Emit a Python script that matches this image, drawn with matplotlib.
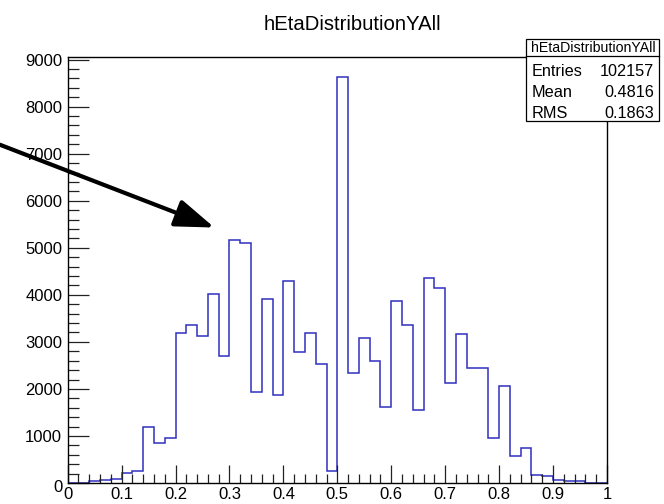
import numpy as np
import matplotlib.pyplot as plt
import matplotlib.transforms as mtransforms
from matplotlib.patches import Rectangle
from matplotlib.lines import Line2D
from matplotlib.ticker import MultipleLocator

plt.rcParams['font.family'] = ['Liberation Sans', 'DejaVu Sans']

# 50 bins in eta-y between 0 and 1
edges = np.linspace(0.0, 1.0, 51)
counts = [0, 0, 40, 60, 80, 206, 248, 1183, 857, 956,
          3181, 3351, 3117, 4009, 2692, 5157, 5100, 1934, 3917, 1863,
          4285, 2777, 3187, 2529, 255, 8630, 2337, 3075, 2600, 1622,
          3860, 3365, 1544, 4349, 4137, 2118, 3173, 2451, 2451, 949,
          2068, 574, 737, 177, 156, 64, 35, 35, 0, 0]

hist_name = "hEtaDistributionYAll"
stat_labels = ["Entries", "Mean", "RMS"]
stat_values = ["102157", "0.4816", "0.1863"]

W, H = 664, 504
fig = plt.figure(figsize=(W / 100, H / 100), dpi=100)


def fx(px):
    return px / W


def fy(py):
    return 1 - py / H


ax = fig.add_axes([fx(67.7), fy(483), fx(607) - fx(67.7), fy(56.7) - fy(483)])
ax.stairs(counts, edges, color='#2f2fbf', linewidth=1.1)
ax.set_xlim(0, 1)
ax.set_ylim(0, 1.05 * max(counts))

ax.xaxis.set_minor_locator(MultipleLocator(0.02))
ax.yaxis.set_minor_locator(MultipleLocator(200))
ax.set_xticks(np.arange(0, 1.01, 0.1))
ax.set_xticklabels(['0', '0.1', '0.2', '0.3', '0.4', '0.5', '0.6', '0.7', '0.8', '0.9', '1'])
ax.set_yticks(np.arange(0, 9001, 1000))
ax.set_yticklabels([str(v) for v in range(0, 9001, 1000)])
ax.tick_params(axis='both', which='both', direction='in', top=False, right=False,
               labelsize=12, width=0.9, color='#222222')
ax.tick_params(axis='x', which='major', length=13, pad=3)
ax.tick_params(axis='x', which='minor', length=6.5)
ax.tick_params(axis='y', which='major', length=15, pad=4)
ax.tick_params(axis='y', which='minor', length=8)
for sp in ax.spines.values():
    sp.set_linewidth(1.0)

# lower the y "0" label a bit so it does not sit on the x "0"
lbl0 = ax.get_yticklabels()[0]
lbl0.set_transform(lbl0.get_transform() + mtransforms.ScaledTranslation(0, -2 / 72, fig.dpi_scale_trans))

fig.text(fx(352), fy(24), hist_name, ha='center', va='center', fontsize=14.6)

# arrow pointing at the 0.3 peak
ax.annotate('', xy=(0.272, 5430), xytext=(-0.1256, 7190), xycoords='data',
            textcoords='data', annotation_clip=False,
            arrowprops=dict(arrowstyle='-|>,head_length=2.4,head_width=0.85',
                            color='black', lw=3.0, shrinkA=0, shrinkB=0))

# statistics box
bx0, bx1, by0, by1 = 526, 659, 39, 121
fig.add_artist(Rectangle((fx(bx0), fy(by1)), fx(bx1) - fx(bx0), fy(by0) - fy(by1),
                         facecolor='white', edgecolor='black', linewidth=0.9,
                         transform=fig.transFigure, zorder=5))
fig.add_artist(Line2D([fx(bx0), fx(bx1)], [fy(56), fy(56)], color='black',
                      linewidth=0.9, transform=fig.transFigure, zorder=6))
fig.text(fx((bx0 + bx1) / 2) + 0.001, fy(48), hist_name, ha='center', va='center',
         fontsize=10.2, zorder=7)
for i, (lab, val) in enumerate(zip(stat_labels, stat_values)):
    yy = fy(72 + i * 20.5)
    fig.text(fx(532), yy, lab, ha='left', va='center', fontsize=11.7, zorder=7)
    fig.text(fx(654), yy, val, ha='right', va='center', fontsize=11.7, zorder=7)

fig.savefig('out.png', dpi=100)
